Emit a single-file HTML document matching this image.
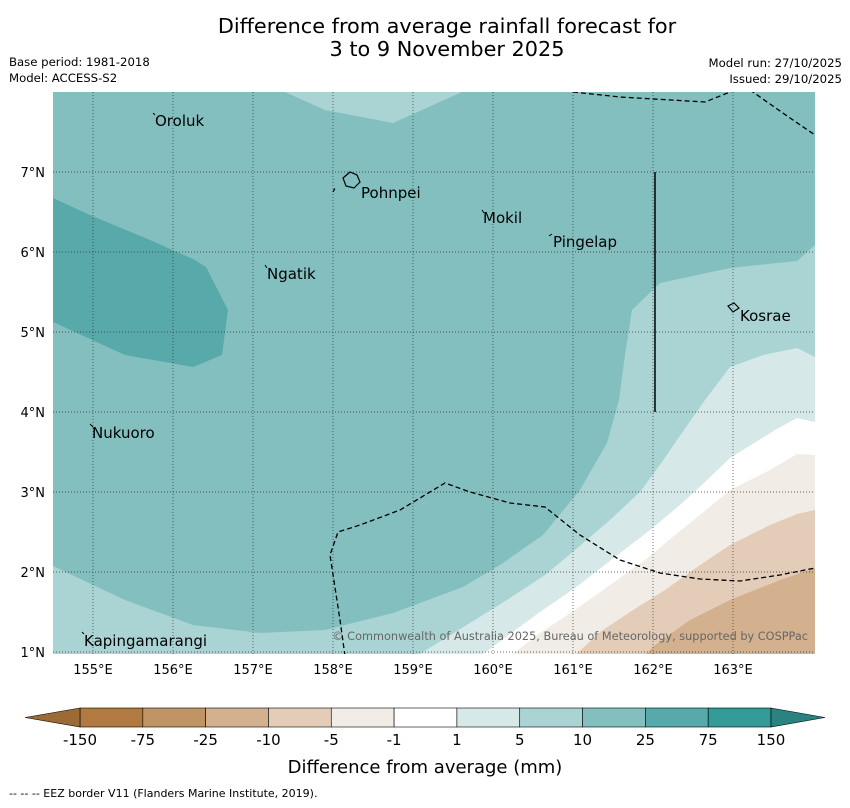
<!DOCTYPE html>
<html><head><meta charset="utf-8">
<style>
body{margin:0;background:#fff;width:850px;height:804px;overflow:hidden;font-family:"DejaVu Sans","Liberation Sans",sans-serif;}
</style></head>
<body>
<svg id="chart" width="850" height="804" xmlns="http://www.w3.org/2000/svg" font-family="DejaVu Sans, Liberation Sans, sans-serif">
<text x="447" y="33" font-size="20.8" text-anchor="middle">Difference from average rainfall forecast for</text>
<text x="447" y="56" font-size="20.8" text-anchor="middle">3 to 9 November 2025</text>
<text x="9" y="66" font-size="11.7">Base period: 1981-2018</text>
<text x="9" y="82" font-size="11.7">Model: ACCESS-S2</text>
<text x="842" y="67" font-size="11.7" text-anchor="end">Model run: 27/10/2025</text>
<text x="842" y="83" font-size="11.7" text-anchor="end">Issued: 29/10/2025</text>
<defs><clipPath id="mc"><rect x="53" y="92" width="762" height="562"/></clipPath></defs>
<g clip-path="url(#mc)">
<rect x="53" y="92" width="762" height="562" fill="#84bfbf"/>
<polygon fill="#58a9a9" points="53,198 90,215 150,240 195,260 206,267 228,310 222,355 193,367 125,355 53,322"/>
<polygon fill="#aad4d4" points="285,92 325,110 393,123 462,92"/>
<polygon fill="#aad4d4" points="815,245 797,261 730,268 660,283 632,310 625,355 619,400 607,443 580,490 543,535 500,565 463,587 393,613 325,630 260,633 193,625 125,600 53,566 53,660 815,660"/>
<polygon fill="#d6e8e8" points="815,357 797,348 763,355 730,367 705,400 677,440 662,462 640,492 610,520 575,550 545,575 510,598 470,623 410,660 815,660"/>
<polygon fill="#ffffff" points="815,422 797,418 775,430 730,458 705,482 680,505 650,530 615,557 575,588 540,612 510,634 475,660 815,660"/>
<polygon fill="#f1ede6" points="815,455 797,454 770,470 730,490 700,515 675,535 645,560 610,585 575,610 540,633 505,660 815,660"/>
<polygon fill="#e3cdb9" points="815,510 797,514 770,525 730,545 700,565 665,590 630,612 600,632 570,660 815,660"/>
<polygon fill="#d3b18f" points="815,568 780,580 730,600 690,620 655,645 640,660 815,660"/>
<g id="grid" stroke="#333" stroke-width="0.7" stroke-dasharray="1,2"></g>
<polyline fill="none" stroke="#000" stroke-width="1.3" stroke-dasharray="5,3" points="573,92 620,97 705,102 735,90"/>
<polyline fill="none" stroke="#000" stroke-width="1.3" stroke-dasharray="5,3" points="750,90 790,118 815,135"/>
<polyline fill="none" stroke="#000" stroke-width="1.3" stroke-dasharray="5,3" points="345,656 340,620 330,555 338,532 360,525 400,510 425,495 445,483 470,492 510,503 545,507 580,535 620,560 660,573 700,579 740,581 780,575 815,568"/>
<polyline fill="none" stroke="#000" stroke-width="1.3" stroke-dasharray="4,3" points="333,192 336,186"/>
<line x1="655" y1="172" x2="655" y2="412" stroke="#000" stroke-width="1.5"/>
<path d="M343,178 L350,172 L357,175 L360,182 L354,188 L346,186 Z" fill="none" stroke="#000" stroke-width="1.2"/>
<path d="M728,306 L734,303 L739,308 L733,312 Z" fill="none" stroke="#000" stroke-width="1.2"/>
<g font-size="15" fill="#000">
<text x="155" y="126">Oroluk</text>
<text x="361" y="198">Pohnpei</text>
<text x="483" y="223">Mokil</text>
<text x="553" y="247">Pingelap</text>
<text x="267" y="279">Ngatik</text>
<text x="740" y="321">Kosrae</text>
<text x="92" y="438">Nukuoro</text>
<text x="84" y="646">Kapingamarangi</text>
</g>
<g stroke="#000" stroke-width="1">
<line x1="153" y1="113" x2="155" y2="115"/><line x1="482" y1="210" x2="484" y2="213"/><line x1="549" y1="236" x2="552" y2="234"/><line x1="265" y1="265" x2="267" y2="268"/><line x1="90" y1="424" x2="93" y2="427"/><line x1="82" y1="632" x2="84" y2="634"/>
</g>
<text x="808" y="640" font-size="11.3" fill="#666" text-anchor="end">© Commonwealth of Australia 2025, Bureau of Meteorology, supported by COSPPac</text>
</g>
<g id="axes" font-size="13"></g>
<g id="cbar"></g>
<text x="425" y="773" font-size="18" text-anchor="middle">Difference from average (mm)</text>
<text x="9" y="797" font-size="11">--  --  -- EEZ border V11 (Flanders Marine Institute, 2019).</text>
</svg>
<script>
const lonTicks=[155,156,157,158,159,160,161,162,163];
const latTicks=[1,2,3,4,5,6,7];
const cbarLabels=["-150","-75","-25","-10","-5","-1","1","5","10","25","75","150"];
const cbarColors=["#b07a42","#c19466","#d3b18f","#e3cdb9","#f1ede6","#ffffff","#d6e8e8","#aad4d4","#84bfbf","#58a9a9","#339a98"];
const NS="http://www.w3.org/2000/svg";
const xL=lon=>53+(lon-154.5)*80;
const yL=lat=>92+(8-lat)*80;
const grid=document.getElementById('grid'),axes=document.getElementById('axes'),cb=document.getElementById('cbar');
lonTicks.forEach(v=>{
 const l=document.createElementNS(NS,'line');l.setAttribute('x1',xL(v));l.setAttribute('x2',xL(v));l.setAttribute('y1',92);l.setAttribute('y2',654);
 
 
 grid.appendChild(l);
 const t=document.createElementNS(NS,'text');t.setAttribute('x',xL(v));t.setAttribute('y',674);t.setAttribute('text-anchor','middle');t.textContent=v+'°E';
 
 
 axes.appendChild(t);
});
latTicks.forEach(v=>{
 const l=document.createElementNS(NS,'line');l.setAttribute('x1',53);l.setAttribute('x2',815);l.setAttribute('y1',yL(v));l.setAttribute('y2',yL(v));
 
 
 grid.appendChild(l);
 const t=document.createElementNS(NS,'text');t.setAttribute('x',45);t.setAttribute('y',yL(v)+5);t.setAttribute('text-anchor','end');t.textContent=v+'°N';
 
 
 axes.appendChild(t);
});
const cx0=80,cw=(771-80)/cbarColors.length,cy=708,ch=19;
cbarColors.forEach((c,i)=>{
 const r=document.createElementNS(NS,'rect');r.setAttribute('x',cx0+i*cw);r.setAttribute('y',cy);r.setAttribute('width',cw);r.setAttribute('height',ch);r.setAttribute('fill',c);r.setAttribute('stroke','#000');r.setAttribute('stroke-width','0.6');
 
 
 cb.appendChild(r);
});
const lt=document.createElementNS(NS,'polygon');lt.setAttribute('points',`${cx0},${cy} 25,${cy+ch/2} ${cx0},${cy+ch}`);lt.setAttribute('fill','#9c6a35');lt.setAttribute('stroke','#000');lt.setAttribute('stroke-width','0.6');


cb.appendChild(lt);
const rt=document.createElementNS(NS,'polygon');rt.setAttribute('points',`771,${cy} 825,${cy+ch/2} 771,${cy+ch}`);rt.setAttribute('fill','#2a8380');rt.setAttribute('stroke','#000');rt.setAttribute('stroke-width','0.6');


cb.appendChild(rt);
cbarLabels.forEach((s,i)=>{
 const t=document.createElementNS(NS,'text');t.setAttribute('x',cx0+i*cw);t.setAttribute('y',745);t.setAttribute('text-anchor','middle');t.setAttribute('font-size','15');t.textContent=s;
 
 
 cb.appendChild(t);
});
</script>
</body></html>
